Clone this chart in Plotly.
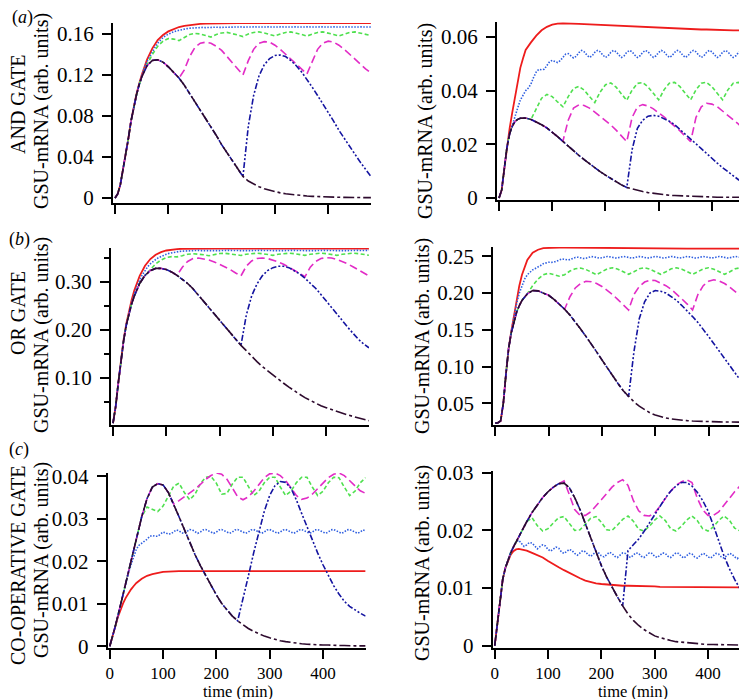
"""GSU-mRNA response of three gate models to periodic inputs (Plotly re-draw)."""

import plotly.graph_objects as go

# sampling times (min)
t_slow = [0, 5, 10, 15, 20, 25, 30, 35, 40, 45, 50,
          60, 70, 80, 90, 100, 110, 120, 130, 140, 150,
          160, 170, 180, 190, 200, 210, 220, 230, 240, 250,
          260, 270, 280, 290, 300, 310, 320, 330, 340, 350,
          360, 370, 380, 390, 400, 410, 420, 430, 440, 450,
          460, 470, 480]
t_fine = [0, 5, 10, 15, 20, 25, 30, 35, 40, 45,
          50, 55, 60, 65, 70, 75, 80, 85, 90, 95,
          100, 105, 110, 115, 120, 125, 130, 135, 140, 145,
          150, 155, 160, 165, 170, 175, 180, 185, 190, 195,
          200, 205, 210, 215, 220, 225, 230, 235, 240, 245,
          250, 255, 260, 265, 270, 275, 280, 285, 290, 295,
          300, 305, 310, 315, 320, 325, 330, 335, 340, 345,
          350, 355, 360, 365, 370, 375, 380, 385, 390, 395,
          400, 405, 410, 415, 420, 425, 430, 435, 440, 445,
          450, 455, 460, 465, 470, 475, 480]

# ---- (a) AND gate, left column ----
and_l_red = [0, 0.004, 0.013, 0.027, 0.042, 0.058, 0.075, 0.089, 0.101, 0.111, 0.120,
             0.135, 0.146, 0.154, 0.159, 0.1625, 0.165, 0.1668, 0.168, 0.1688, 0.1694,
             0.1698, 0.17, 0.1702, 0.1703, 0.1704, 0.1704, 0.1705, 0.1705, 0.1705, 0.1705,
             0.1705, 0.1705, 0.1705, 0.1705, 0.1705, 0.1705, 0.1705, 0.1705, 0.1705, 0.1705,
             0.1705, 0.1705, 0.1705, 0.1705, 0.1705, 0.1705, 0.1705, 0.1705, 0.1705, 0.1705,
             0.1705, 0.1705, 0.1705]
and_l_blue = [0, 0.004, 0.013, 0.027, 0.042, 0.058, 0.075, 0.088, 0.100, 0.110,
              0.119, 0.127, 0.133, 0.138, 0.143, 0.147, 0.151, 0.154, 0.1565, 0.1585,
              0.160, 0.1612, 0.1622, 0.163, 0.1637, 0.1643, 0.1648, 0.1652, 0.1656, 0.1659,
              0.1661, 0.1664, 0.1666, 0.1664, 0.1662, 0.1664, 0.1667, 0.1668, 0.1666, 0.1664,
              0.1665, 0.1668, 0.1669, 0.1667, 0.1665, 0.1666, 0.1668, 0.1669, 0.1667, 0.1665,
              0.1666, 0.1668, 0.1669, 0.1667, 0.1665, 0.1666, 0.1668, 0.1669, 0.1667, 0.1665,
              0.1666, 0.1668, 0.1669, 0.1667, 0.1665, 0.1666, 0.1668, 0.1669, 0.1667, 0.1665,
              0.1666, 0.1668, 0.1669, 0.1667, 0.1665, 0.1666, 0.1668, 0.1669, 0.1667, 0.1665,
              0.1666, 0.1668, 0.1669, 0.1667, 0.1665, 0.1666, 0.1668, 0.1669, 0.1667, 0.1665,
              0.1666, 0.1668, 0.1669, 0.1667, 0.1665, 0.1666, 0.1668]
and_l_green = [0, 0.004, 0.013, 0.027, 0.042, 0.058, 0.075, 0.088, 0.100, 0.110, 0.118,
               0.130, 0.140, 0.148, 0.153, 0.1555, 0.155, 0.1535, 0.1565, 0.1595, 0.1605,
               0.160, 0.1585, 0.157, 0.1595, 0.161, 0.1615, 0.1605, 0.159, 0.1575, 0.160,
               0.1615, 0.162, 0.161, 0.1595, 0.158, 0.160, 0.1615, 0.162, 0.161, 0.1595,
               0.158, 0.160, 0.1615, 0.162, 0.161, 0.1595, 0.158, 0.160, 0.1615, 0.162,
               0.161, 0.1595, 0.1585]
and_l_magenta = [0, 0.004, 0.013, 0.027, 0.042, 0.058, 0.075, 0.088, 0.100, 0.110, 0.118,
                 0.129, 0.1342, 0.1348, 0.1325, 0.128, 0.123, 0.117, 0.125, 0.138, 0.147,
                 0.151, 0.152, 0.151, 0.148, 0.144, 0.138, 0.132, 0.126, 0.120, 0.134,
                 0.145, 0.151, 0.1525, 0.152, 0.149, 0.145, 0.140, 0.135, 0.130, 0.125,
                 0.121, 0.133, 0.145, 0.151, 0.153, 0.152, 0.149, 0.145, 0.140, 0.135,
                 0.130, 0.126, 0.122]
and_l_navy = [0, 0.004, 0.013, 0.027, 0.042, 0.058, 0.075, 0.088, 0.100, 0.110, 0.118,
              0.129, 0.1342, 0.1348, 0.1325, 0.128, 0.123, 0.117, 0.110, 0.102, 0.094,
              0.086, 0.078, 0.069, 0.061, 0.052, 0.044, 0.036, 0.028, 0.021, 0.070,
              0.100, 0.119, 0.130, 0.136, 0.139, 0.1395, 0.138, 0.134, 0.129, 0.123,
              0.116, 0.108, 0.100, 0.092, 0.083, 0.075, 0.066, 0.058, 0.050, 0.042,
              0.035, 0.028, 0.021]
and_l_black = [0, 0.004, 0.013, 0.027, 0.042, 0.058, 0.075, 0.088, 0.100, 0.110, 0.118,
               0.129, 0.1342, 0.1348, 0.1325, 0.128, 0.123, 0.117, 0.110, 0.102, 0.094,
               0.086, 0.078, 0.069, 0.061, 0.052, 0.044, 0.036, 0.028, 0.021, 0.0165,
               0.0135, 0.011, 0.009, 0.0075, 0.0062, 0.005, 0.0041, 0.0034, 0.0028, 0.0023,
               0.0019, 0.0016, 0.0013, 0.0011, 0.0009, 0.0008, 0.0007, 0.0006, 0.0005, 0.0004,
               0.0004, 0.0003, 0.0003]

# ---- (a) AND gate, right column ----
and_r_red = [0, 0.003, 0.011, 0.019, 0.026, 0.032, 0.038, 0.0435, 0.0485, 0.052, 0.0552,
             0.058, 0.0605, 0.0625, 0.0638, 0.0646, 0.065, 0.0651, 0.0651, 0.065, 0.0649,
             0.0648, 0.0647, 0.0646, 0.0645, 0.0644, 0.0643, 0.0642, 0.0641, 0.064, 0.0639,
             0.0638, 0.0637, 0.0636, 0.0635, 0.0634, 0.0633, 0.0632, 0.0631, 0.0631, 0.063,
             0.0629, 0.0629, 0.0628, 0.0628, 0.0627, 0.0627, 0.0626, 0.0626, 0.0625, 0.0625,
             0.0624, 0.0624, 0.0623]
and_r_blue = [0, 0.003, 0.011, 0.019, 0.024, 0.0275, 0.030, 0.0335, 0.0365, 0.0385,
              0.040, 0.041, 0.0425, 0.045, 0.047, 0.048, 0.0478, 0.048, 0.0495, 0.0508,
              0.0513, 0.051, 0.0505, 0.0512, 0.0525, 0.0536, 0.0538, 0.053, 0.0522, 0.0528,
              0.0542, 0.055, 0.0545, 0.0533, 0.0524, 0.053, 0.0543, 0.055, 0.0545, 0.0533,
              0.0524, 0.053, 0.0543, 0.055, 0.0545, 0.0533, 0.0524, 0.053, 0.0543, 0.055,
              0.0545, 0.0533, 0.0524, 0.053, 0.0543, 0.055, 0.0545, 0.0533, 0.0524, 0.053,
              0.0543, 0.055, 0.0545, 0.0533, 0.0524, 0.053, 0.0543, 0.055, 0.0545, 0.0533,
              0.0524, 0.053, 0.0543, 0.055, 0.0545, 0.0533, 0.0524, 0.053, 0.0543, 0.055,
              0.0545, 0.0533, 0.0524, 0.053, 0.0543, 0.055, 0.0545, 0.0533, 0.0524, 0.053,
              0.0543, 0.055, 0.0545, 0.0533, 0.0524, 0.053, 0.0543]
and_r_green = [0, 0.003, 0.011, 0.019, 0.024, 0.0268, 0.0285, 0.0293, 0.0297, 0.0298, 0.0298,
               0.0293, 0.0335, 0.0372, 0.0386, 0.0378, 0.0358, 0.034, 0.0378, 0.0408, 0.0416,
               0.0402, 0.0378, 0.0356, 0.0395, 0.0422, 0.0429, 0.0413, 0.0388, 0.0364, 0.0402,
               0.0427, 0.043, 0.0414, 0.039, 0.0366, 0.0403, 0.0428, 0.0431, 0.0415, 0.039,
               0.0366, 0.0403, 0.0428, 0.0431, 0.0415, 0.039, 0.0366, 0.0403, 0.0428, 0.0431,
               0.0415, 0.039, 0.0375]
and_r_magenta = [0, 0.003, 0.011, 0.019, 0.024, 0.0268, 0.0285, 0.0293, 0.0297, 0.0298, 0.0298,
                 0.0293, 0.0284, 0.0273, 0.0261, 0.0246, 0.0229, 0.0211, 0.029, 0.0335, 0.0347,
                 0.0345, 0.0335, 0.032, 0.0305, 0.029, 0.0272, 0.0253, 0.0232, 0.021, 0.030,
                 0.034, 0.0348, 0.0343, 0.0332, 0.0318, 0.0302, 0.0285, 0.0268, 0.025, 0.023,
                 0.021, 0.030, 0.034, 0.0353, 0.035, 0.034, 0.0325, 0.031, 0.0292, 0.0275,
                 0.0255, 0.0233, 0.0212]
and_r_navy = [0, 0.003, 0.011, 0.019, 0.024, 0.0268, 0.0285, 0.0293, 0.0297, 0.0298, 0.0298,
              0.0293, 0.0284, 0.0273, 0.0261, 0.0246, 0.0229, 0.0211, 0.0193, 0.0176, 0.0159,
              0.0143, 0.0127, 0.0112, 0.0098, 0.0085, 0.0072, 0.006, 0.0049, 0.0039, 0.018,
              0.026, 0.029, 0.0305, 0.0308, 0.0305, 0.0297, 0.0286, 0.0273, 0.0256, 0.0238,
              0.022, 0.0202, 0.0184, 0.0165, 0.0147, 0.013, 0.0113, 0.0097, 0.0082, 0.0068,
              0.0056, 0.0045, 0.0036]
and_r_black = [0, 0.003, 0.011, 0.019, 0.024, 0.0268, 0.0285, 0.0293, 0.0297, 0.0298, 0.0298,
               0.0293, 0.0284, 0.0273, 0.0261, 0.0246, 0.0229, 0.0211, 0.0193, 0.0176, 0.0159,
               0.0143, 0.0127, 0.0112, 0.0098, 0.0085, 0.0072, 0.006, 0.0049, 0.0039, 0.0033,
               0.0028, 0.0024, 0.002, 0.0017, 0.0014, 0.0012, 0.001, 0.0009, 0.0008, 0.0007,
               0.0006, 0.0005, 0.0005, 0.0004, 0.0004, 0.0003, 0.0003, 0.0003, 0.0002, 0.0002,
               0.0002, 0.0002, 0.0002]

# ---- (b) OR gate, left column ----
or_l_red = [0.005, 0.04, 0.09, 0.14, 0.18, 0.213, 0.24, 0.262, 0.282, 0.298, 0.312,
            0.333, 0.347, 0.356, 0.3615, 0.3648, 0.3667, 0.3678, 0.3684, 0.3687, 0.3689,
            0.369, 0.369, 0.369, 0.369, 0.369, 0.369, 0.369, 0.369, 0.369, 0.369,
            0.369, 0.369, 0.369, 0.369, 0.369, 0.369, 0.369, 0.369, 0.369, 0.369,
            0.369, 0.369, 0.369, 0.369, 0.369, 0.369, 0.369, 0.369, 0.369, 0.369,
            0.369, 0.369, 0.369]
or_l_blue = [0.005, 0.04, 0.09, 0.14, 0.178, 0.21, 0.235, 0.256, 0.275, 0.29,
             0.303, 0.314, 0.323, 0.331, 0.337, 0.342, 0.346, 0.3495, 0.3525, 0.355,
             0.357, 0.3588, 0.3602, 0.3614, 0.3623, 0.363, 0.3635, 0.3639, 0.3643, 0.3646,
             0.3649, 0.3652, 0.365, 0.3646, 0.3644, 0.3647, 0.3651, 0.3653, 0.3651, 0.3647,
             0.3645, 0.3648, 0.3652, 0.3654, 0.3651, 0.3647, 0.3645, 0.3648, 0.3652, 0.3654,
             0.3651, 0.3647, 0.3645, 0.3648, 0.3652, 0.3654, 0.3651, 0.3647, 0.3645, 0.3648,
             0.3652, 0.3654, 0.3651, 0.3647, 0.3645, 0.3648, 0.3652, 0.3654, 0.3651, 0.3647,
             0.3645, 0.3648, 0.3652, 0.3654, 0.3651, 0.3647, 0.3645, 0.3648, 0.3652, 0.3654,
             0.3651, 0.3647, 0.3645, 0.3648, 0.3652, 0.3654, 0.3651, 0.3647, 0.3645, 0.3648,
             0.3652, 0.3654, 0.3651, 0.3647, 0.3645, 0.3648, 0.3652]
or_l_green = [0.005, 0.04, 0.09, 0.14, 0.178, 0.21, 0.235, 0.254, 0.27, 0.284, 0.296,
              0.313, 0.326, 0.337, 0.345, 0.35, 0.352, 0.3515, 0.354, 0.357, 0.358,
              0.3575, 0.356, 0.354, 0.3565, 0.3585, 0.359, 0.358, 0.3565, 0.3545, 0.357,
              0.3588, 0.3592, 0.3582, 0.3565, 0.3547, 0.357, 0.3588, 0.3592, 0.3582, 0.3565,
              0.3547, 0.357, 0.3588, 0.3592, 0.3582, 0.3565, 0.3547, 0.357, 0.3588, 0.3592,
              0.3582, 0.3565, 0.355]
or_l_magenta = [0.005, 0.04, 0.09, 0.14, 0.178, 0.21, 0.235, 0.254, 0.27, 0.284, 0.296,
                0.313, 0.323, 0.3275, 0.3275, 0.325, 0.32, 0.313, 0.33, 0.342, 0.348,
                0.349, 0.3475, 0.345, 0.341, 0.336, 0.331, 0.325, 0.318, 0.312, 0.332,
                0.343, 0.348, 0.349, 0.348, 0.345, 0.341, 0.336, 0.33, 0.324, 0.317,
                0.31, 0.33, 0.342, 0.348, 0.35, 0.349, 0.346, 0.342, 0.337, 0.331,
                0.325, 0.318, 0.312]
or_l_navy = [0.005, 0.04, 0.09, 0.14, 0.178, 0.21, 0.235, 0.254, 0.27, 0.284, 0.296,
             0.313, 0.323, 0.3275, 0.3275, 0.325, 0.32, 0.313, 0.305, 0.296, 0.285,
             0.272, 0.259, 0.245, 0.232, 0.218, 0.205, 0.192, 0.18, 0.167, 0.23,
             0.27, 0.295, 0.312, 0.323, 0.329, 0.332, 0.332, 0.329, 0.323, 0.316,
             0.307, 0.297, 0.286, 0.273, 0.26, 0.247, 0.233, 0.219, 0.205, 0.192,
             0.18, 0.17, 0.162]
or_l_black = [0.005, 0.04, 0.09, 0.14, 0.178, 0.21, 0.235, 0.254, 0.27, 0.284, 0.296,
              0.313, 0.323, 0.3275, 0.3275, 0.325, 0.32, 0.313, 0.305, 0.296, 0.285,
              0.272, 0.259, 0.245, 0.232, 0.218, 0.205, 0.192, 0.18, 0.167, 0.156,
              0.144, 0.133, 0.123, 0.114, 0.105, 0.096, 0.088, 0.08, 0.072, 0.065,
              0.058, 0.052, 0.046, 0.041, 0.037, 0.033, 0.029, 0.025, 0.022, 0.019,
              0.016, 0.013, 0.01]

# ---- (b) OR gate, right column ----
or_r_red = [0.023, 0.0235, 0.026, 0.05, 0.09, 0.125, 0.148, 0.17, 0.192, 0.21, 0.225,
            0.245, 0.255, 0.259, 0.2612, 0.2618, 0.262, 0.262, 0.262, 0.2619, 0.2618,
            0.2617, 0.2616, 0.2615, 0.2614, 0.2613, 0.2612, 0.2611, 0.261, 0.261, 0.2609,
            0.2609, 0.2608, 0.2608, 0.2607, 0.2607, 0.2606, 0.2606, 0.2606, 0.2605, 0.2605,
            0.2605, 0.2605, 0.2605, 0.2605, 0.2605, 0.2605, 0.2605, 0.2605, 0.2605, 0.2605,
            0.2605, 0.2605, 0.2605]
or_r_blue = [0.023, 0.0235, 0.026, 0.05, 0.09, 0.125, 0.148, 0.168, 0.186, 0.2,
             0.211, 0.219, 0.225, 0.229, 0.2315, 0.2335, 0.235, 0.2375, 0.24, 0.2415,
             0.242, 0.2418, 0.242, 0.2435, 0.2455, 0.2465, 0.246, 0.2452, 0.2455, 0.247,
             0.2485, 0.2488, 0.2478, 0.247, 0.2475, 0.2488, 0.2497, 0.2493, 0.2483, 0.2475,
             0.248, 0.2492, 0.2498, 0.2493, 0.2484, 0.2477, 0.2481, 0.2492, 0.2498, 0.2493,
             0.2484, 0.2477, 0.2481, 0.2492, 0.2498, 0.2493, 0.2484, 0.2477, 0.2481, 0.2492,
             0.2498, 0.2493, 0.2484, 0.2477, 0.2481, 0.2492, 0.2498, 0.2493, 0.2484, 0.2477,
             0.2481, 0.2492, 0.2498, 0.2493, 0.2484, 0.2477, 0.2481, 0.2492, 0.2498, 0.2493,
             0.2484, 0.2477, 0.2481, 0.2492, 0.2498, 0.2493, 0.2484, 0.2477, 0.2481, 0.2492,
             0.2498, 0.2493, 0.2484, 0.2477, 0.2481, 0.2492, 0.2498]
or_r_green = [0.023, 0.0235, 0.026, 0.05, 0.09, 0.125, 0.146, 0.162, 0.174, 0.183, 0.19,
              0.199, 0.21, 0.219, 0.225, 0.227, 0.2255, 0.223, 0.225, 0.23, 0.233,
              0.234, 0.232, 0.228, 0.225, 0.229, 0.233, 0.2345, 0.2325, 0.229, 0.2255,
              0.229, 0.233, 0.2345, 0.2325, 0.229, 0.2255, 0.229, 0.233, 0.2345, 0.2325,
              0.229, 0.2255, 0.229, 0.233, 0.2345, 0.2325, 0.229, 0.2255, 0.229, 0.233,
              0.2345, 0.2325, 0.229]
or_r_magenta = [0.023, 0.0235, 0.026, 0.05, 0.09, 0.125, 0.146, 0.162, 0.174, 0.183, 0.19,
                0.199, 0.2035, 0.203, 0.2005, 0.197, 0.1915, 0.185, 0.178, 0.195, 0.207,
                0.213, 0.216, 0.2155, 0.213, 0.209, 0.204, 0.198, 0.191, 0.184, 0.177,
                0.198, 0.209, 0.215, 0.2175, 0.217, 0.214, 0.21, 0.205, 0.199, 0.192,
                0.185, 0.177, 0.198, 0.21, 0.216, 0.218, 0.2165, 0.213, 0.208, 0.202,
                0.196, 0.19, 0.184]
or_r_navy = [0.023, 0.0235, 0.026, 0.05, 0.09, 0.125, 0.146, 0.162, 0.174, 0.183, 0.19,
             0.199, 0.2035, 0.203, 0.2005, 0.197, 0.1915, 0.185, 0.178, 0.17, 0.161,
             0.151, 0.141, 0.131, 0.12, 0.109, 0.098, 0.087, 0.077, 0.067, 0.059,
             0.12, 0.165, 0.188, 0.2, 0.2035, 0.2025, 0.2, 0.1955, 0.19, 0.183,
             0.176, 0.168, 0.16, 0.151, 0.141, 0.131, 0.121, 0.111, 0.1, 0.09,
             0.081, 0.072, 0.063]
or_r_black = [0.023, 0.0235, 0.026, 0.05, 0.09, 0.125, 0.146, 0.162, 0.174, 0.183, 0.19,
              0.199, 0.2035, 0.203, 0.2005, 0.197, 0.1915, 0.185, 0.178, 0.17, 0.161,
              0.151, 0.141, 0.131, 0.12, 0.109, 0.098, 0.087, 0.077, 0.067, 0.059,
              0.052, 0.046, 0.041, 0.037, 0.034, 0.0318, 0.03, 0.0287, 0.0277, 0.0269,
              0.0263, 0.0258, 0.0254, 0.0251, 0.0249, 0.0247, 0.0246, 0.0245, 0.0244, 0.0243,
              0.0243, 0.0242, 0.0242]

# ---- (c) co-operative gate, left column ----
coop_l_red = [0, 0.002, 0.0045, 0.0068, 0.0086, 0.0101, 0.0114, 0.0125, 0.0134, 0.0142, 0.0149,
              0.0159, 0.0166, 0.017, 0.0173, 0.0175, 0.0176, 0.0177, 0.0177, 0.0177, 0.0177,
              0.0177, 0.0177, 0.0177, 0.0177, 0.0177, 0.0177, 0.0177, 0.0177, 0.0177, 0.0177,
              0.0177, 0.0177, 0.0177, 0.0177, 0.0177, 0.0177, 0.0177, 0.0177, 0.0177, 0.0177,
              0.0177, 0.0177, 0.0177, 0.0177, 0.0177, 0.0177, 0.0177, 0.0177, 0.0177, 0.0177,
              0.0177, 0.0177, 0.0177]
coop_l_blue = [0, 0.002, 0.0045, 0.007, 0.0096, 0.0122, 0.0148, 0.0172, 0.0192, 0.0212,
               0.0229, 0.0238, 0.0242, 0.0246, 0.0252, 0.0259, 0.0261, 0.0259, 0.0259, 0.0264,
               0.0269, 0.0267, 0.0264, 0.0265, 0.027, 0.0274, 0.0272, 0.0267, 0.0266, 0.027,
               0.0275, 0.0274, 0.0269, 0.0266, 0.0269, 0.0274, 0.0275, 0.0272, 0.0268, 0.0266,
               0.0269, 0.0274, 0.0275, 0.0272, 0.0268, 0.0266, 0.0269, 0.0274, 0.0275, 0.0272,
               0.0268, 0.0266, 0.0269, 0.0274, 0.0275, 0.0272, 0.0268, 0.0266, 0.0269, 0.0274,
               0.0275, 0.0272, 0.0268, 0.0266, 0.0269, 0.0274, 0.0275, 0.0272, 0.0268, 0.0266,
               0.0269, 0.0274, 0.0275, 0.0272, 0.0268, 0.0266, 0.0269, 0.0274, 0.0275, 0.0272,
               0.0268, 0.0266, 0.0269, 0.0274, 0.0275, 0.0272, 0.0268, 0.0266, 0.0269, 0.0274,
               0.0275, 0.0272, 0.0268, 0.0266, 0.0269, 0.0274, 0.0272]
coop_l_green = [0, 0.002, 0.0045, 0.007, 0.0096, 0.0122, 0.0148, 0.0174, 0.02, 0.0226, 0.0252,
                0.0305, 0.0328, 0.0322, 0.0317, 0.033, 0.0355, 0.0377, 0.0384, 0.0362, 0.0345,
                0.0358, 0.0383, 0.0398, 0.04, 0.0384, 0.0358, 0.036, 0.0382, 0.0398, 0.0398,
                0.0375, 0.0355, 0.0365, 0.0385, 0.0398, 0.0398, 0.0375, 0.0355, 0.0365, 0.0385,
                0.0398, 0.0398, 0.0375, 0.0355, 0.0365, 0.0385, 0.0398, 0.0397, 0.0375, 0.0355,
                0.0365, 0.0385, 0.0397]
coop_l_magenta = [0, 0.002, 0.0045, 0.007, 0.0096, 0.0122, 0.0148, 0.0174, 0.02, 0.0226, 0.0252,
                  0.0305, 0.0348, 0.0375, 0.0383, 0.038, 0.0362, 0.0335, 0.0343, 0.0352, 0.0359,
                  0.037, 0.0381, 0.0393, 0.0402, 0.0408, 0.0405, 0.0393, 0.0373, 0.0352, 0.0345,
                  0.0352, 0.0365, 0.0382, 0.0397, 0.0406, 0.0408, 0.0402, 0.039, 0.0373, 0.0355,
                  0.0346, 0.0349, 0.0358, 0.0371, 0.0385, 0.0397, 0.0405, 0.0408, 0.0402, 0.039,
                  0.0376, 0.0366, 0.036]
coop_l_navy = [0, 0.002, 0.0045, 0.007, 0.0096, 0.0122, 0.0148, 0.0174, 0.02, 0.0226, 0.0252,
               0.0305, 0.0348, 0.0375, 0.0383, 0.038, 0.0362, 0.0335, 0.0305, 0.0275, 0.0245,
               0.0216, 0.019, 0.0166, 0.0143, 0.0121, 0.0101, 0.0085, 0.0071, 0.006, 0.011,
               0.0165, 0.022, 0.0272, 0.0318, 0.0355, 0.0378, 0.0388, 0.0386, 0.0372, 0.0345,
               0.0313, 0.0281, 0.025, 0.022, 0.0192, 0.0166, 0.0143, 0.0123, 0.0106, 0.0094,
               0.0085, 0.0078, 0.0071]
coop_l_black = [0, 0.002, 0.0045, 0.007, 0.0096, 0.0122, 0.0148, 0.0174, 0.02, 0.0226, 0.0252,
                0.0305, 0.0348, 0.0375, 0.0383, 0.038, 0.0362, 0.0335, 0.0305, 0.0275, 0.0245,
                0.0216, 0.019, 0.0166, 0.0143, 0.0121, 0.0101, 0.0085, 0.0071, 0.006, 0.005,
                0.0042, 0.0035, 0.0029, 0.0024, 0.002, 0.0016, 0.0013, 0.0011, 0.0009, 0.0007,
                0.0006, 0.0005, 0.0004, 0.0004, 0.0003, 0.0003, 0.0002, 0.0002, 0.0002, 0.0001,
                0.0001, 0.0001, 0.0001]

# ---- (c) co-operative gate, right column ----
coop_r_red = [0, 0.004, 0.0085, 0.0115, 0.0135, 0.0148, 0.0158, 0.0164, 0.0167, 0.0168, 0.0167,
              0.0165, 0.0161, 0.0157, 0.0153, 0.0147, 0.0141, 0.0136, 0.0131, 0.0126, 0.0121,
              0.0117, 0.0113, 0.011, 0.0108, 0.0107, 0.0106, 0.0105, 0.0105, 0.0104, 0.0104,
              0.0104, 0.0103, 0.0103, 0.0103, 0.0103, 0.0102, 0.0102, 0.0102, 0.0102, 0.0102,
              0.0102, 0.0102, 0.0102, 0.0102, 0.0101, 0.0101, 0.0101, 0.0101, 0.0101, 0.0101,
              0.0101, 0.0101, 0.0101]
coop_r_blue = [0, 0.004, 0.0085, 0.0115, 0.0135, 0.015, 0.0162, 0.0172, 0.018, 0.0183,
               0.0178, 0.0172, 0.0175, 0.0179, 0.0178, 0.0172, 0.0168, 0.0172, 0.0175, 0.0173,
               0.0167, 0.0164, 0.0168, 0.0171, 0.0169, 0.0163, 0.016, 0.0164, 0.0167, 0.0165,
               0.016, 0.0157, 0.0161, 0.0165, 0.0163, 0.0158, 0.0155, 0.0159, 0.0163, 0.0161,
               0.0156, 0.0154, 0.0158, 0.0162, 0.016, 0.0155, 0.0153, 0.0157, 0.0161, 0.016,
               0.0155, 0.0153, 0.0157, 0.0161, 0.016, 0.0155, 0.0153, 0.0157, 0.0161, 0.016,
               0.0155, 0.0153, 0.0157, 0.0161, 0.016, 0.0155, 0.0153, 0.0157, 0.0161, 0.016,
               0.0155, 0.0152, 0.0156, 0.016, 0.0159, 0.0154, 0.0152, 0.0156, 0.016, 0.0159,
               0.0154, 0.0152, 0.0156, 0.016, 0.0159, 0.0154, 0.0152, 0.0156, 0.016, 0.0159,
               0.0154, 0.0151, 0.0155, 0.0159, 0.0158, 0.0153, 0.0151]
coop_r_green = [0, 0.004, 0.0085, 0.0115, 0.0135, 0.015, 0.0161, 0.0171, 0.018, 0.0189, 0.0198,
                0.0215, 0.0222, 0.0208, 0.0199, 0.0203, 0.0213, 0.0222, 0.0224, 0.0212, 0.02,
                0.0201, 0.0211, 0.0221, 0.0224, 0.0214, 0.0201, 0.02, 0.0209, 0.0219, 0.0225,
                0.0216, 0.0202, 0.0199, 0.0207, 0.0218, 0.0225, 0.0217, 0.0203, 0.0199, 0.0207,
                0.0218, 0.0225, 0.0217, 0.0203, 0.0199, 0.0206, 0.0217, 0.0225, 0.0218, 0.0204,
                0.0199, 0.0205, 0.0214]
coop_r_magenta = [0, 0.004, 0.0085, 0.0115, 0.0135, 0.015, 0.0161, 0.0171, 0.018, 0.0189, 0.0198,
                  0.0215, 0.0231, 0.0245, 0.0257, 0.0267, 0.0275, 0.0281, 0.0286, 0.0262, 0.0236,
                  0.0226, 0.0226, 0.0232, 0.0242, 0.0253, 0.0264, 0.0275, 0.0283, 0.0288, 0.0278,
                  0.0252, 0.0234, 0.0226, 0.0225, 0.023, 0.0242, 0.0256, 0.0268, 0.0278, 0.0284,
                  0.0288, 0.0283, 0.0256, 0.0236, 0.0226, 0.0226, 0.0232, 0.0244, 0.0256, 0.0267,
                  0.0277, 0.0284, 0.0288]
coop_r_navy = [0, 0.004, 0.0085, 0.0115, 0.0135, 0.015, 0.0161, 0.0171, 0.018, 0.0189, 0.0198,
               0.0215, 0.0231, 0.0245, 0.0257, 0.0267, 0.0275, 0.0281, 0.0282, 0.0274, 0.0257,
               0.0236, 0.0212, 0.0187, 0.0162, 0.0139, 0.0119, 0.0101, 0.0085, 0.0069, 0.0165,
               0.0175, 0.0185, 0.0198, 0.0213, 0.0228, 0.0242, 0.0256, 0.0268, 0.0277, 0.0283,
               0.0283, 0.0277, 0.0266, 0.0252, 0.0234, 0.0209, 0.0182, 0.0156, 0.0134, 0.0115,
               0.0099, 0.0087, 0.0077]
coop_r_black = [0, 0.004, 0.0085, 0.0115, 0.0135, 0.015, 0.0161, 0.0171, 0.018, 0.0189, 0.0198,
                0.0215, 0.0231, 0.0245, 0.0257, 0.0267, 0.0275, 0.0281, 0.0282, 0.0274, 0.0257,
                0.0236, 0.0212, 0.0187, 0.0162, 0.0139, 0.0119, 0.0101, 0.0085, 0.0069, 0.0055,
                0.0044, 0.0035, 0.0028, 0.0022, 0.0017, 0.0014, 0.0011, 0.0009, 0.0007, 0.0006,
                0.0005, 0.0004, 0.0003, 0.0003, 0.0002, 0.0002, 0.0002, 0.0001, 0.0001, 0.0001,
                0.0001, 0.0001, 0.0001]

x_ticks = [0, 100, 200, 300, 400]
x_tick_text = ["0", "100", "200", "300", "400"]

FIG_W, FIG_H = 747, 699
FONT = "Liberation Serif, Times New Roman, serif"
Y_TICK_SIZE = 21
X_TICK_SIZE = 17
TITLE_SIZE = 20

# line style per input regime: (colour, dash, width); drawn in this order
STYLES = {
    "red": ("#ee1c1c", "solid", 1.8),
    "blue": ("#2f5fe0", "1.5px,1.5px", 1.6),
    "green": ("#4fe04f", "4px,2.5px", 1.6),
    "magenta": ("#e22cc6", "8px,4px", 1.6),
    "navy": ("#1414a0", "6px,2px,2px,2px,2px,2px", 1.6),
    "black": ("#2e0b2e", "11px,3px,3px,3px", 1.6),
}

# panel boxes in pixels: left, right, top, bottom; plus y range and ticks
PANELS = [
    dict(series=dict(red=and_l_red, blue=and_l_blue, green=and_l_green, magenta=and_l_magenta,
                     navy=and_l_navy, black=and_l_black),
         box=(104.9, 362.9, 15, 195), yrange=(-0.0049, 0.1707),
         yticks=[0, 0.04, 0.08, 0.12, 0.16], ytext=["0", "0.04", "0.08", "0.12", "0.16"]),
    dict(series=dict(red=and_r_red, blue=and_r_blue, green=and_r_green, magenta=and_r_magenta,
                     navy=and_r_navy, black=and_r_black),
         box=(488.9, 746.5, 14, 192), yrange=(-0.00075, 0.0656),
         yticks=[0, 0.02, 0.04, 0.06], ytext=["0", "0.02", "0.04", "0.06"]),
    dict(series=dict(red=or_l_red, blue=or_l_blue, green=or_l_green, magenta=or_l_magenta,
                     navy=or_l_navy, black=or_l_black),
         box=(102.9, 360.9, 240, 417), yrange=(0.001, 0.37),
         yticks=[0.1, 0.2, 0.3], ytext=["0.10", "0.20", "0.30"],
         minor=[0.05, 0.15, 0.25, 0.35]),
    dict(series=dict(red=or_r_red, blue=or_r_blue, green=or_r_green, magenta=or_r_magenta,
                     navy=or_r_navy, black=or_r_black),
         box=(485.2, 743.2, 239, 417), yrange=(0.0204, 0.2627),
         yticks=[0.05, 0.1, 0.15, 0.2, 0.25], ytext=["0.05", "0.10", "0.15", "0.20", "0.25"]),
    dict(series=dict(red=coop_l_red, blue=coop_l_blue, green=coop_l_green, magenta=coop_l_magenta,
                     navy=coop_l_navy, black=coop_l_black),
         box=(99.6, 357.6, 465, 640), yrange=(-0.0004, 0.0408),
         yticks=[0, 0.01, 0.02, 0.03, 0.04], ytext=["0", "0.01", "0.02", "0.03", "0.04"],
         xlabels=True),
    dict(series=dict(red=coop_r_red, blue=coop_r_blue, green=coop_r_green, magenta=coop_r_magenta,
                     navy=coop_r_navy, black=coop_r_black),
         box=(484.6, 742.6, 463, 640), yrange=(-0.0004, 0.0303),
         yticks=[0, 0.01, 0.02, 0.03], ytext=["0", "0.01", "0.02", "0.03"],
         xlabels=True),
]

for p in PANELS:
    for name, vals in p["series"].items():
        expected = len(t_fine) if name == "blue" else len(t_slow)
        if len(vals) != expected:
            raise ValueError(f"{name}: {len(vals)} values, expected {expected}")

fig = go.Figure()
axis_common = dict(showline=True, linecolor="black", linewidth=2, ticks="outside", ticklen=9,
                   tickwidth=2, tickcolor="black", showgrid=False, zeroline=False)

layout = {}
for i, p in enumerate(PANELS):
    n = "" if i == 0 else str(i + 1)
    left, right, top, bottom = p["box"]
    for name, (color, dash, width) in STYLES.items():
        fig.add_trace(go.Scatter(
            x=t_fine if name == "blue" else t_slow, y=p["series"][name],
            mode="lines", line=dict(color=color, dash=dash, width=width),
            xaxis="x" + n, yaxis="y" + n, showlegend=False, hoverinfo="skip"))
    layout["xaxis" + n] = dict(axis_common, domain=[left / FIG_W, right / FIG_W],
                               anchor="y" + n, range=[-4, 480], tickvals=x_ticks,
                               ticktext=x_tick_text, showticklabels=p.get("xlabels", False),
                               ticklabelstandoff=0,
                               tickfont=dict(family=FONT, size=X_TICK_SIZE, color="black"))
    yax = dict(axis_common, domain=[1 - bottom / FIG_H, 1 - top / FIG_H], anchor="x" + n,
               range=list(p["yrange"]), tickvals=p["yticks"], ticktext=p["ytext"],
               ticklabelstandoff=4,
               tickfont=dict(family=FONT, size=Y_TICK_SIZE, color="black"))
    if "minor" in p:
        yax["minor"] = dict(tickvals=p["minor"], ticks="outside", ticklen=5, tickwidth=2,
                            tickcolor="black", showgrid=False)
    layout["yaxis" + n] = yax


def note(text, x, y, size=TITLE_SIZE, angle=0):
    return dict(text=text, x=x / FIG_W, y=1 - y / FIG_H, xref="paper", yref="paper",
                showarrow=False, textangle=angle, xanchor="center", yanchor="middle",
                font=dict(family=FONT, size=size, color="black"))


ytitle = "GSU-mRNA (arb. units)"
annotations = [
    note("(<i>a</i>)", 14, 9, 18), note("(<i>b</i>)", 11, 231, 18), note("(<i>c</i>)", 11, 441, 18),
    note("AND GATE", 10, 97, angle=-90), note(ytitle, 33, 103, angle=-90),
    note("OR GATE", 10, 305, angle=-90), note(ytitle, 33, 327, angle=-90),
    note("CO-OPERATIVE GATE", 10, 558, angle=-90), note(ytitle, 33, 552, angle=-90),
    note(ytitle, 417, 113, angle=-90), note(ytitle, 414, 328, angle=-90),
    note(ytitle, 414, 555, angle=-90),
    note("time (min)", 230, 683, 16.5), note("time (min)", 625, 683, 16.5),
]

fig.update_layout(width=FIG_W, height=FIG_H, margin=dict(l=0, r=0, t=0, b=0),
                  template="none", plot_bgcolor="white", paper_bgcolor="white",
                  font=dict(family=FONT, color="black"), showlegend=False,
                  annotations=annotations, **layout)

fig.write_html("out.html")
